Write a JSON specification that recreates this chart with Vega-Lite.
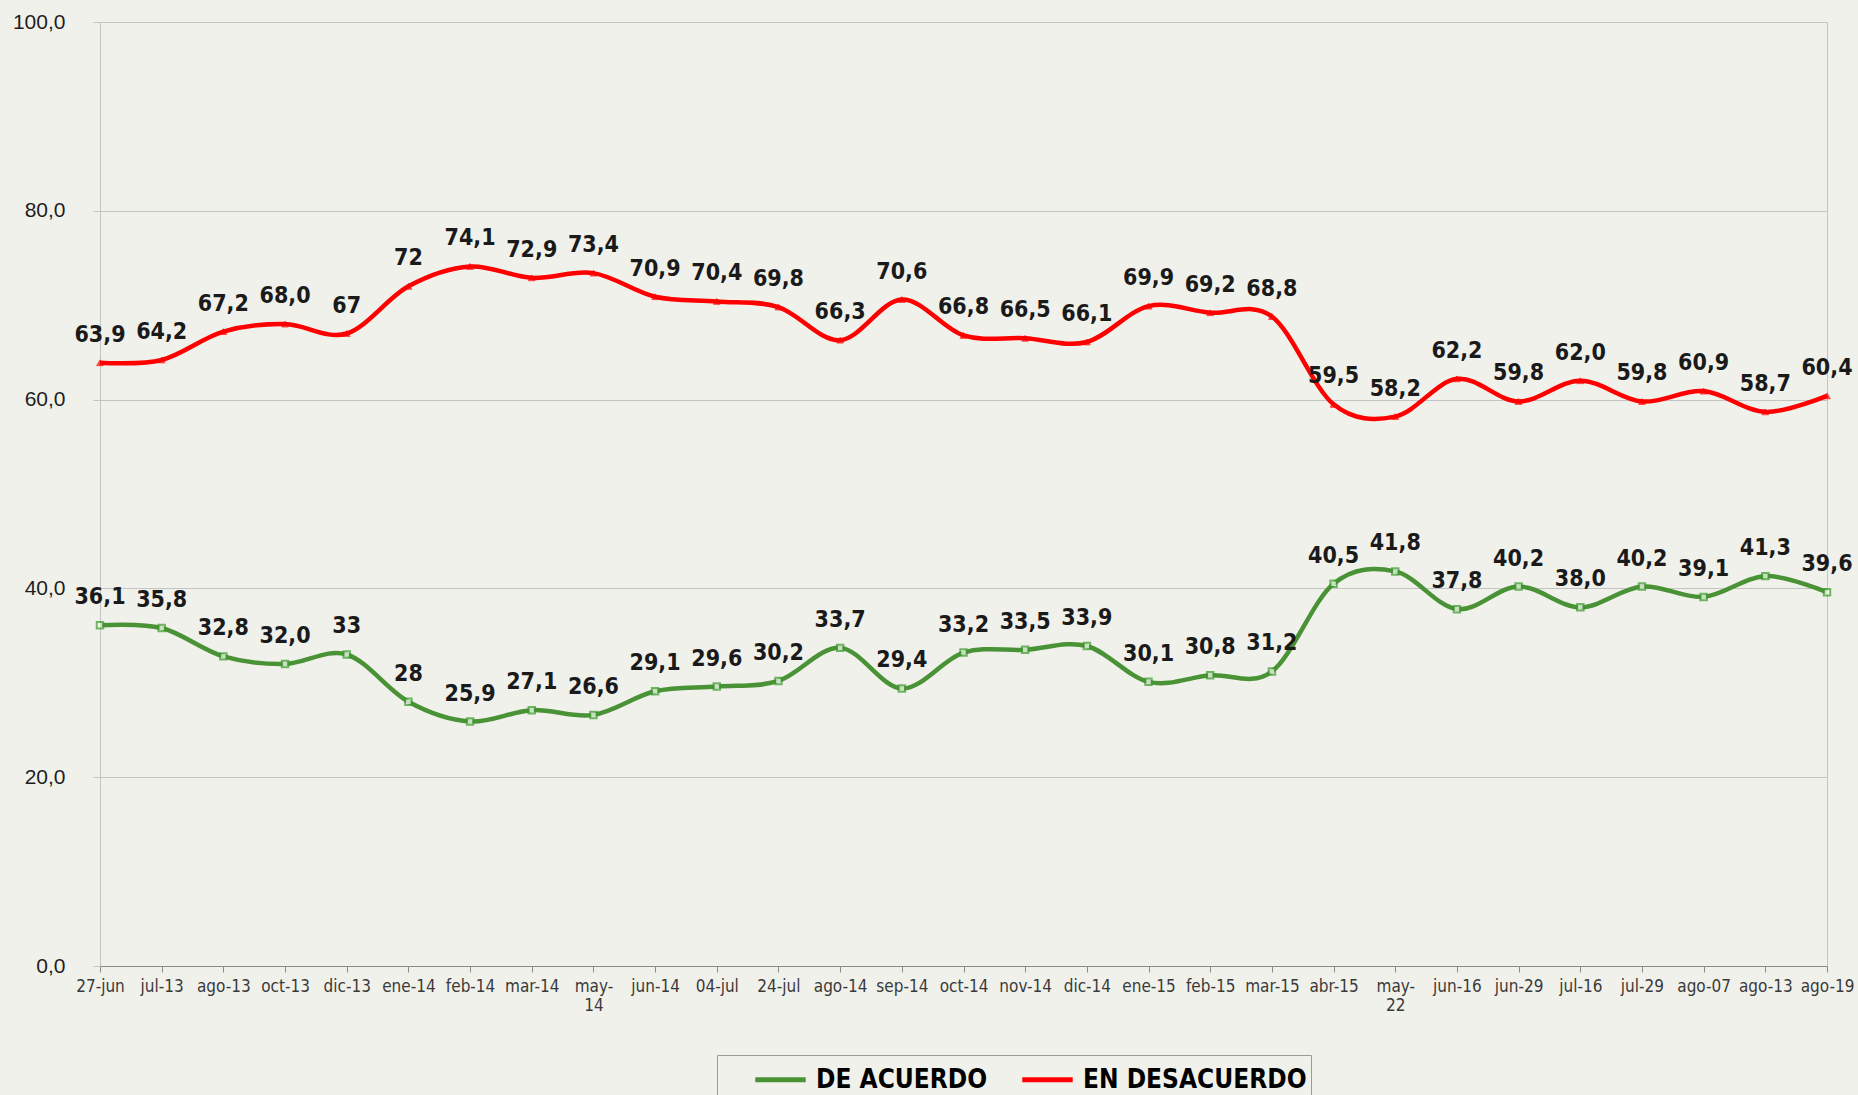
{
  "$schema": "https://vega.github.io/schema/vega-lite/v6.json",
  "autosize": {"type": "none"},
  "width": 1727,
  "height": 944,
  "padding": {"left": 100, "top": 22, "right": 31, "bottom": 129},
  "background": "#f1f1ec",
  "config": {
    "view": {"stroke": "#c4c4c4", "strokeWidth": 1},
    "font": "DejaVu Sans Condensed, Liberation Sans, sans-serif"
  },
  "data": {
    "values": [
      {"fecha": "27-jun", "serie": "DE ACUERDO", "valor": 36.1, "etiqueta": "36,1"},
      {"fecha": "jul-13", "serie": "DE ACUERDO", "valor": 35.8, "etiqueta": "35,8"},
      {"fecha": "ago-13", "serie": "DE ACUERDO", "valor": 32.8, "etiqueta": "32,8"},
      {"fecha": "oct-13", "serie": "DE ACUERDO", "valor": 32.0, "etiqueta": "32,0"},
      {"fecha": "dic-13", "serie": "DE ACUERDO", "valor": 33, "etiqueta": "33"},
      {"fecha": "ene-14", "serie": "DE ACUERDO", "valor": 28, "etiqueta": "28"},
      {"fecha": "feb-14", "serie": "DE ACUERDO", "valor": 25.9, "etiqueta": "25,9"},
      {"fecha": "mar-14", "serie": "DE ACUERDO", "valor": 27.1, "etiqueta": "27,1"},
      {"fecha": "may-14", "serie": "DE ACUERDO", "valor": 26.6, "etiqueta": "26,6"},
      {"fecha": "jun-14", "serie": "DE ACUERDO", "valor": 29.1, "etiqueta": "29,1"},
      {"fecha": "04-jul", "serie": "DE ACUERDO", "valor": 29.6, "etiqueta": "29,6"},
      {"fecha": "24-jul", "serie": "DE ACUERDO", "valor": 30.2, "etiqueta": "30,2"},
      {"fecha": "ago-14", "serie": "DE ACUERDO", "valor": 33.7, "etiqueta": "33,7"},
      {"fecha": "sep-14", "serie": "DE ACUERDO", "valor": 29.4, "etiqueta": "29,4"},
      {"fecha": "oct-14", "serie": "DE ACUERDO", "valor": 33.2, "etiqueta": "33,2"},
      {"fecha": "nov-14", "serie": "DE ACUERDO", "valor": 33.5, "etiqueta": "33,5"},
      {"fecha": "dic-14", "serie": "DE ACUERDO", "valor": 33.9, "etiqueta": "33,9"},
      {"fecha": "ene-15", "serie": "DE ACUERDO", "valor": 30.1, "etiqueta": "30,1"},
      {"fecha": "feb-15", "serie": "DE ACUERDO", "valor": 30.8, "etiqueta": "30,8"},
      {"fecha": "mar-15", "serie": "DE ACUERDO", "valor": 31.2, "etiqueta": "31,2"},
      {"fecha": "abr-15", "serie": "DE ACUERDO", "valor": 40.5, "etiqueta": "40,5"},
      {"fecha": "may-22", "serie": "DE ACUERDO", "valor": 41.8, "etiqueta": "41,8"},
      {"fecha": "jun-16", "serie": "DE ACUERDO", "valor": 37.8, "etiqueta": "37,8"},
      {"fecha": "jun-29", "serie": "DE ACUERDO", "valor": 40.2, "etiqueta": "40,2"},
      {"fecha": "jul-16", "serie": "DE ACUERDO", "valor": 38.0, "etiqueta": "38,0"},
      {"fecha": "jul-29", "serie": "DE ACUERDO", "valor": 40.2, "etiqueta": "40,2"},
      {"fecha": "ago-07", "serie": "DE ACUERDO", "valor": 39.1, "etiqueta": "39,1"},
      {"fecha": "ago-13\u200b", "serie": "DE ACUERDO", "valor": 41.3, "etiqueta": "41,3"},
      {"fecha": "ago-19", "serie": "DE ACUERDO", "valor": 39.6, "etiqueta": "39,6"},
      {"fecha": "27-jun", "serie": "EN DESACUERDO", "valor": 63.9, "etiqueta": "63,9"},
      {"fecha": "jul-13", "serie": "EN DESACUERDO", "valor": 64.2, "etiqueta": "64,2"},
      {"fecha": "ago-13", "serie": "EN DESACUERDO", "valor": 67.2, "etiqueta": "67,2"},
      {"fecha": "oct-13", "serie": "EN DESACUERDO", "valor": 68.0, "etiqueta": "68,0"},
      {"fecha": "dic-13", "serie": "EN DESACUERDO", "valor": 67, "etiqueta": "67"},
      {"fecha": "ene-14", "serie": "EN DESACUERDO", "valor": 72, "etiqueta": "72"},
      {"fecha": "feb-14", "serie": "EN DESACUERDO", "valor": 74.1, "etiqueta": "74,1"},
      {"fecha": "mar-14", "serie": "EN DESACUERDO", "valor": 72.9, "etiqueta": "72,9"},
      {"fecha": "may-14", "serie": "EN DESACUERDO", "valor": 73.4, "etiqueta": "73,4"},
      {"fecha": "jun-14", "serie": "EN DESACUERDO", "valor": 70.9, "etiqueta": "70,9"},
      {"fecha": "04-jul", "serie": "EN DESACUERDO", "valor": 70.4, "etiqueta": "70,4"},
      {"fecha": "24-jul", "serie": "EN DESACUERDO", "valor": 69.8, "etiqueta": "69,8"},
      {"fecha": "ago-14", "serie": "EN DESACUERDO", "valor": 66.3, "etiqueta": "66,3"},
      {"fecha": "sep-14", "serie": "EN DESACUERDO", "valor": 70.6, "etiqueta": "70,6"},
      {"fecha": "oct-14", "serie": "EN DESACUERDO", "valor": 66.8, "etiqueta": "66,8"},
      {"fecha": "nov-14", "serie": "EN DESACUERDO", "valor": 66.5, "etiqueta": "66,5"},
      {"fecha": "dic-14", "serie": "EN DESACUERDO", "valor": 66.1, "etiqueta": "66,1"},
      {"fecha": "ene-15", "serie": "EN DESACUERDO", "valor": 69.9, "etiqueta": "69,9"},
      {"fecha": "feb-15", "serie": "EN DESACUERDO", "valor": 69.2, "etiqueta": "69,2"},
      {"fecha": "mar-15", "serie": "EN DESACUERDO", "valor": 68.8, "etiqueta": "68,8"},
      {"fecha": "abr-15", "serie": "EN DESACUERDO", "valor": 59.5, "etiqueta": "59,5"},
      {"fecha": "may-22", "serie": "EN DESACUERDO", "valor": 58.2, "etiqueta": "58,2"},
      {"fecha": "jun-16", "serie": "EN DESACUERDO", "valor": 62.2, "etiqueta": "62,2"},
      {"fecha": "jun-29", "serie": "EN DESACUERDO", "valor": 59.8, "etiqueta": "59,8"},
      {"fecha": "jul-16", "serie": "EN DESACUERDO", "valor": 62.0, "etiqueta": "62,0"},
      {"fecha": "jul-29", "serie": "EN DESACUERDO", "valor": 59.8, "etiqueta": "59,8"},
      {"fecha": "ago-07", "serie": "EN DESACUERDO", "valor": 60.9, "etiqueta": "60,9"},
      {"fecha": "ago-13\u200b", "serie": "EN DESACUERDO", "valor": 58.7, "etiqueta": "58,7"},
      {"fecha": "ago-19", "serie": "EN DESACUERDO", "valor": 60.4, "etiqueta": "60,4"}
    ]
  },
  "encoding": {
    "x": {
      "field": "fecha",
      "type": "nominal",
      "sort": null,
      "scale": {"type": "point", "padding": 0},
      "axis": {
        "title": null,
        "labelAngle": 0,
        "labelFont": "DejaVu Sans Condensed, Liberation Sans, sans-serif",
        "labelFontSize": 17,
        "labelColor": "#3a3a3a",
        "labelPadding": 6,
        "labelExpr": "datum.label == 'may-14' ? ['may-', '14'] : datum.label == 'may-22' ? ['may-', '22'] : datum.label",
        "labelLineHeight": 19,
        "domainColor": "#8a8a8a",
        "tickColor": "#8a8a8a",
        "tickSize": 6,
        "grid": false
      }
    },
    "y": {
      "field": "valor",
      "type": "quantitative",
      "scale": {"domain": [0, 100]},
      "axis": {
        "title": null,
        "values": [0, 20, 40, 60, 80, 100],
        "labelExpr": "replace(format(datum.value, '.1f'), '.', ',')",
        "labelFont": "Liberation Sans",
        "labelFontSize": 21,
        "labelColor": "#1e1e1e",
        "labelPadding": 28,
        "domain": false,
        "tickSize": 7,
        "tickColor": "#c4c4c4",
        "gridColor": "#c4c4c4",
        "gridWidth": 1
      }
    }
  },
  "layer": [
    {
      "mark": {"type": "line", "interpolate": "cardinal", "strokeWidth": 4.5},
      "encoding": {
        "color": {
          "field": "serie",
          "type": "nominal",
          "scale": {"domain": ["DE ACUERDO", "EN DESACUERDO"], "range": ["#4a9236", "#ff0000"]},
          "legend": {
            "title": "\u00a0",
            "titleOrient": "left",
            "titleFontSize": 8,
            "titlePadding": 39,
            "orient": "none",
            "legendX": 617,
            "legendY": 1033,
            "direction": "horizontal",
            "symbolType": "M-1.4,0L1.4,0",
            "symbolSize": 1296,
            "symbolStrokeWidth": 5,
            "labelFont": "DejaVu Sans Condensed, Liberation Sans, sans-serif",
            "labelFontSize": 26,
            "labelFontWeight": "bold",
            "labelColor": "#000000",
            "labelOffset": 15,
            "labelLimit": 400,
            "columnPadding": 24,
            "padding": 4,
            "strokeColor": "#9a9a9a",
            "fillColor": "transparent"
          }
        }
      }
    },
    {
      "transform": [{"filter": "datum.serie == 'DE ACUERDO'"}],
      "mark": {"type": "point", "shape": "square", "filled": true, "fill": "#ffffff", "stroke": "#3a9a2a", "strokeWidth": 2, "size": 42}
    },
    {
      "transform": [{"filter": "datum.serie == 'EN DESACUERDO'"}],
      "mark": {"type": "point", "shape": "triangle-up", "filled": true, "fill": "#ff0000", "stroke": "#ff0000", "strokeWidth": 1, "size": 45}
    },
    {
      "mark": {"type": "text", "dy": -28, "font": "DejaVu Sans Condensed, Liberation Sans, sans-serif", "fontSize": 23, "fontWeight": "bold", "color": "#1a1a1a", "baseline": "middle"},
      "encoding": {"text": {"field": "etiqueta", "type": "nominal"}}
    }
  ]
}
